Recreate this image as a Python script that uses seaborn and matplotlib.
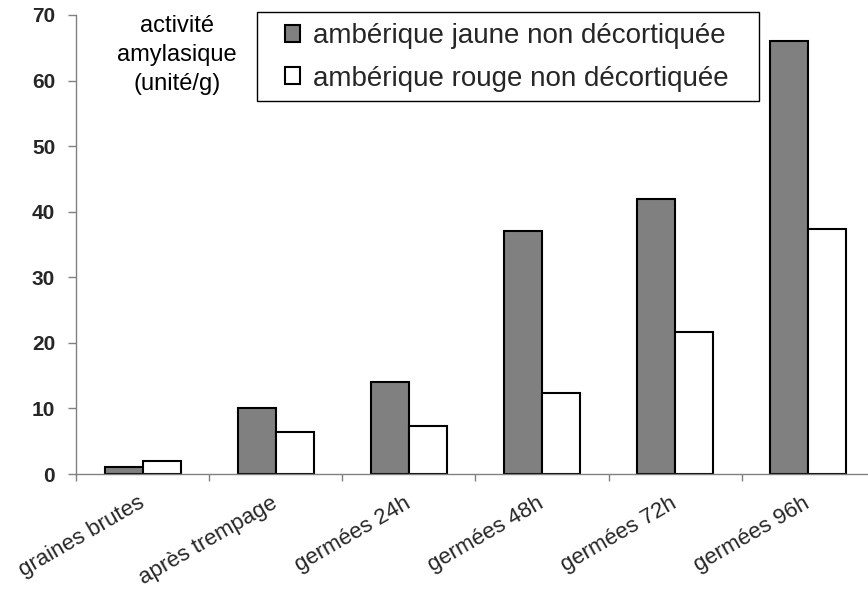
import matplotlib
matplotlib.use("Agg")
import matplotlib.pyplot as plt
import seaborn as sns
import pandas as pd
from matplotlib.patches import Rectangle
from matplotlib.ticker import FixedLocator, MultipleLocator

# Amylase activity of mung bean (ambérique) through germination stages
etapes = ["graines brutes", "après trempage", "germées 24h",
          "germées 48h", "germées 72h", "germées 96h"]
jaune = [1.0, 10.0, 14.0, 37.0, 42.0, 66.0]
rouge = [2.0, 6.4, 7.3, 12.3, 21.6, 37.3]
series = ["ambérique jaune non décortiquée", "ambérique rouge non décortiquée"]
y_ticks = [0, 10, 20, 30, 40, 50, 60, 70]

df = pd.DataFrame({
    "etape": etapes * 2,
    "activite": jaune + rouge,
    "variete": [series[0]] * len(etapes) + [series[1]] * len(etapes),
})

sns.set_theme(style="white")
plt.rcParams["font.family"] = ["Liberation Sans", "DejaVu Sans"]

W, H = 868, 589
fig = plt.figure(figsize=(W / 100, H / 100), dpi=100)
ax = fig.add_axes([76 / W, 115 / H, 799 / W, 459 / H])

sns.barplot(data=df, x="etape", y="activite", hue="variete",
            palette=["#808080", "#ffffff"], edgecolor="black",
            linewidth=1.5, width=0.57, gap=0, ax=ax)

ax.set_ylim(0, 70)
ax.set_xlim(-0.5, len(etapes) - 0.5)
ax.set_xlabel("")
ax.set_ylabel("")

# y axis: bold labels, outward ticks
ax.yaxis.set_major_locator(FixedLocator(y_ticks))
ax.set_yticklabels([str(v) for v in y_ticks], fontsize=15, fontweight="bold")
ax.tick_params(axis="y", which="major", direction="out", length=6,
               width=1, color="#808080", pad=9, left=True)

# x axis: category labels between boundary ticks
ax.xaxis.set_minor_locator(MultipleLocator(1, offset=0.5))
ax.tick_params(axis="x", which="minor", direction="out", length=5,
               width=1, color="#808080", bottom=True)
ax.tick_params(axis="x", which="major", length=0, pad=20)
for lab in ax.get_xticklabels():
    lab.set_rotation(30)
    lab.set_ha("right")
    lab.set_va("center")
    lab.set_rotation_mode("anchor")
    lab.set_fontsize(16)

for side in ("top", "right"):
    ax.spines[side].set_visible(False)
for side in ("left", "bottom"):
    ax.spines[side].set_color("#808080")
    ax.spines[side].set_linewidth(1)

ax.text(0.1264, 0.913, "activité\namylasique\n(unité/g)", transform=ax.transAxes,
        ha="center", va="center", multialignment="center",
        fontsize=17, linespacing=1.39, color="black")

handles, labels = ax.get_legend_handles_labels()
leg = ax.legend(handles, labels, loc="upper left",
                bbox_to_anchor=(285 / W, 1 - 23 / H),
                bbox_transform=fig.transFigure, borderaxespad=0,
                borderpad=0, fontsize=20, frameon=False,
                handlelength=0.55, handleheight=0.55, handletextpad=0.47,
                labelspacing=0.6)

# legend frame
fig.patches.append(Rectangle((257 / W, 1 - 101 / H), 502 / W, 89 / H,
                             transform=fig.transFigure, fill=False,
                             edgecolor="black", linewidth=1, zorder=5))

fig.savefig("out.png", dpi=100)
